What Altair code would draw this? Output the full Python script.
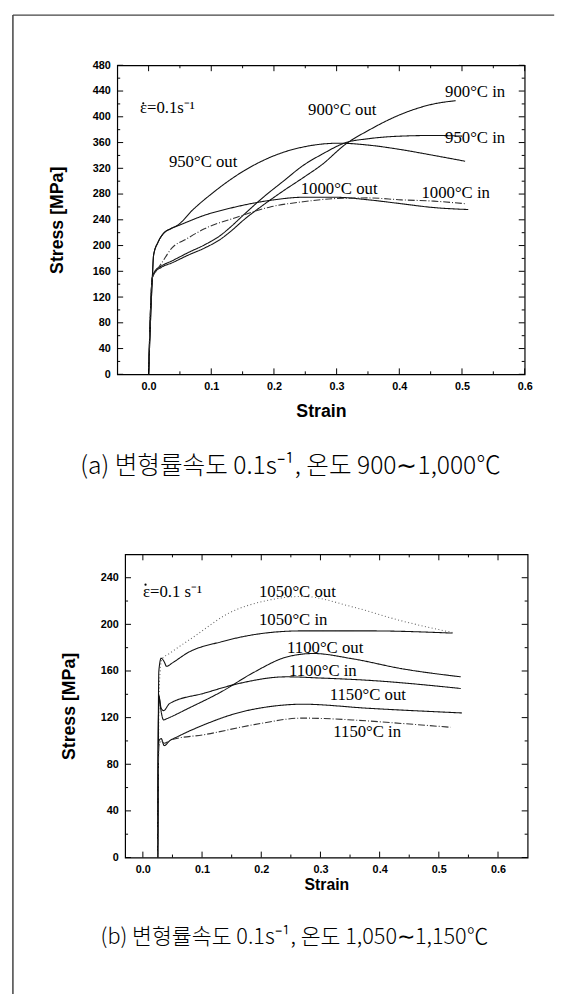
import altair as alt
import pandas as pd

# ---------------- panel (a): 900~1000 C ----------------
A_CAPTION = "(a) 변형률속도 0.1s⁻¹, 온도 900∼1,000℃"
A_NAMES = ["c900in", "c950in", "c950out", "c1000out", "c1000in"]
A_STYLE = ["solid", "solid", "solid", "solid", "dashdot"]
A_STRAIN = [
    [0.0, 0.006, 0.01, 0.02, 0.037, 0.063, 0.089, 0.115, 0.131, 0.152, 0.183, 0.215, 0.246, 0.277, 0.315, 0.351, 0.403, 0.455, 0.49],
    [0.0, 0.006, 0.01, 0.02, 0.037, 0.063, 0.089, 0.115, 0.131, 0.152, 0.183, 0.215, 0.246, 0.277, 0.315, 0.351, 0.403, 0.455, 0.5],
    [0.0, 0.006, 0.008, 0.015, 0.025, 0.035, 0.047, 0.07, 0.1, 0.152, 0.204, 0.257, 0.304, 0.351, 0.403, 0.455, 0.505],
    [0.0, 0.006, 0.008, 0.015, 0.025, 0.035, 0.05, 0.089, 0.13, 0.168, 0.2, 0.246, 0.298, 0.351, 0.403, 0.455, 0.51],
    [0.0, 0.006, 0.012, 0.021, 0.037, 0.06, 0.089, 0.141, 0.194, 0.246, 0.298, 0.351, 0.403, 0.455, 0.505],
]
A_STRESS = [
    [0, 150, 158, 166, 173, 185, 196, 210, 222, 240, 263, 285, 305, 326, 358, 379, 404, 420, 425],
    [0, 150, 160, 168, 176, 189, 201, 216, 229, 248, 275, 300, 324, 342, 360, 366, 370, 371, 370],
    [0, 150, 185, 205, 220, 226, 232, 255, 280, 316, 341, 355, 359, 356, 349, 340, 331],
    [0, 150, 185, 205, 220, 226, 232, 247, 258, 266, 271, 275, 275, 271, 265, 259, 256],
    [0, 150, 160, 173, 196, 210, 226, 244, 260, 268, 273, 274, 271, 269, 265],
]
A_LABELS = ["900°C in", "900°C out", "950°C in", "950°C out", "1000°C out", "1000°C in", "ε=0.1s⁻¹"]
A_LABEL_X = [0.521, 0.309, 0.521, 0.087, 0.304, 0.49, 0.03]
A_LABEL_Y = [438, 410, 367, 329, 288, 282, 414]
A_DOT = [-0.0085, 421]          # dot over epsilon (strain rate)
A_X_DOMAIN = [-0.05, 0.6]
A_Y_DOMAIN = [0, 480]
A_Y_MAJOR = list(range(0, 481, 40))
A_Y_MINOR = list(range(20, 480, 40))
A_X_MAJOR = [0.0, 0.1, 0.2, 0.3, 0.4, 0.5, 0.6]
A_X_MINOR = [0.05, 0.15, 0.25, 0.35, 0.45, 0.55]

# ---------------- panel (b): 1050~1150 C ----------------
B_CAPTION = "(b) 변형률속도 0.1s⁻¹, 온도 1,050∼1,150℃"
B_NAMES = ["c1050out", "c1050in", "c1100out", "c1100in", "c1150out", "c1150in"]
B_STYLE = ["dotted", "solid", "solid", "solid", "solid", "dashdot"]
B_STRAIN = [
    [0.025, 0.028, 0.032, 0.045, 0.088, 0.143, 0.215, 0.27, 0.354, 0.437, 0.523],
    [0.025, 0.027, 0.031, 0.036, 0.04, 0.05, 0.077, 0.132, 0.215, 0.27, 0.381, 0.523],
    [0.025, 0.027, 0.03, 0.035, 0.04, 0.077, 0.132, 0.188, 0.243, 0.288, 0.354, 0.437, 0.537],
    [0.025, 0.027, 0.031, 0.035, 0.045, 0.104, 0.16, 0.243, 0.298, 0.381, 0.537],
    [0.025, 0.027, 0.031, 0.036, 0.045, 0.06, 0.104, 0.16, 0.215, 0.27, 0.381, 0.539],
    [0.025, 0.027, 0.031, 0.036, 0.048, 0.104, 0.188, 0.27, 0.354, 0.437, 0.52],
]
B_STRESS = [
    [0, 150, 170, 175, 190, 209, 221, 224, 215, 203, 193],
    [0, 160, 171, 168, 164, 167, 176, 185, 193, 194.4, 194.4, 192.5],
    [0, 139, 128, 118, 119, 128, 142, 159, 172, 175, 170.5, 162, 155],
    [0, 138, 128, 126, 132, 141, 149, 155, 154, 152, 145],
    [0, 100, 102, 96, 100, 104, 114, 124, 129.5, 131.5, 128, 124],
    [0, 96, 100, 98, 101, 105.4, 114, 119.6, 118, 115, 111.7],
]
B_LABELS = ["1050°C out", "1050°C in", "1100°C out", "1100°C in", "1150°C out", "1150°C in", "ε=0.1 s⁻¹"]
B_LABEL_X = [0.261, 0.254, 0.308, 0.304, 0.38, 0.379, 0.05]
B_LABEL_Y = [228, 203.6, 179.5, 160, 139, 108, 228]
B_DOT = [0.0045, 234]
B_X_DOMAIN = [-0.03, 0.65]
B_Y_DOMAIN = [0, 260]
B_Y_MAJOR = list(range(0, 241, 40))
B_Y_MINOR = list(range(20, 260, 40))
B_X_MAJOR = [0.0, 0.1, 0.2, 0.3, 0.4, 0.5, 0.6]
B_X_MINOR = [0.05, 0.15, 0.25, 0.35, 0.45, 0.55]

STYLE_DOMAIN = ["solid", "dashdot", "dotted"]


def curves_df(names, styles, xs, ys):
    rows = []
    for n, s, xx, yy in zip(names, styles, xs, ys):
        for i, (a, b) in enumerate(zip(xx, yy)):
            rows.append({"curve": n, "style": s, "strain": a, "stress": b, "i": i})
    return pd.DataFrame(rows)


def panel(names, styles, xs, ys, labels, lx, ly, dot, xdom, ydom, ymaj, ymin, xmaj, xmin,
          width, height, caption, cap_fs, title_offset, lab_fs, xtit_fs, ytit_fs,
          xtit_pad, ytit_pad):
    xs_ = alt.Scale(domain=xdom, nice=False, zero=False)
    ys_ = alt.Scale(domain=ydom, nice=False, zero=False)
    xaxis = alt.Axis(values=xmaj, format=".1f", ticks=False, tickSize=0, domain=False,
                     grid=False, labelFontSize=lab_fs, labelFontWeight="bold",
                     labelPadding=6, labelColor="black", labelFlush=False,
                     title="Strain",
                     titleFontSize=xtit_fs, titleFontWeight="bold", titlePadding=xtit_pad,
                     titleColor="black", labelFont="Liberation Sans",
                     titleFont="Liberation Sans")
    yaxis = alt.Axis(values=ymaj, ticks=False, tickSize=0, domain=False, grid=False,
                     labelFontSize=lab_fs, labelFontWeight="bold", labelPadding=7,
                     labelColor="black", labelFlush=False,
                     title="Stress [MPa]", titleFontSize=ytit_fs,
                     titleFontWeight="bold", titlePadding=ytit_pad, titleColor="black",
                     labelFont="Liberation Sans", titleFont="Liberation Sans")
    df = curves_df(names, styles, xs, ys)
    lines = alt.Chart(df).mark_line(strokeWidth=1.1, interpolate="monotone").encode(
        x=alt.X("strain:Q", scale=xs_, axis=xaxis),
        y=alt.Y("stress:Q", scale=ys_, axis=yaxis),
        detail="curve:N",
        order="i:Q",
        strokeDash=alt.StrokeDash("style:N", legend=None,
                                  scale=alt.Scale(domain=STYLE_DOMAIN,
                                                  range=[[1, 0], [7, 2, 1, 2], [1, 2.5]])),
        color=alt.Color("style:N", legend=None,
                        scale=alt.Scale(domain=STYLE_DOMAIN,
                                        range=["#111111", "#333333", "#666666"])),
    )
    tdf = pd.DataFrame({"t": labels, "x": lx, "y": ly})
    texts = alt.Chart(tdf).mark_text(font="Liberation Serif", fontSize=17,
                                     color="black").encode(
        x=alt.X("x:Q", scale=xs_, axis=xaxis),
        y=alt.Y("y:Q", scale=ys_, axis=yaxis),
        text="t:N",
    )
    dotc = alt.Chart(pd.DataFrame({"x": [dot[0]], "y": [dot[1]]})).mark_circle(
        size=5, color="black", opacity=1).encode(
        x=alt.X("x:Q", scale=xs_, axis=xaxis),
        y=alt.Y("y:Q", scale=ys_, axis=yaxis),
    )

    def yticks(vals, length):
        d = pd.DataFrame({"v": vals})
        base = alt.Chart(d).mark_rule(color="black", strokeWidth=1)
        left = base.encode(y=alt.Y("v:Q", scale=ys_, axis=yaxis), x=alt.value(0),
                           x2=alt.value(length))
        right = base.encode(y=alt.Y("v:Q", scale=ys_, axis=yaxis), x=alt.value(width),
                            x2=alt.value(width - length))
        return [left, right]

    def xticks(vals, length):
        d = pd.DataFrame({"v": vals})
        base = alt.Chart(d).mark_rule(color="black", strokeWidth=1)
        bot = base.encode(x=alt.X("v:Q", scale=xs_, axis=xaxis), y=alt.value(height),
                          y2=alt.value(height - length))
        top = base.encode(x=alt.X("v:Q", scale=xs_, axis=xaxis), y=alt.value(0),
                          y2=alt.value(length))
        return [bot, top]

    layers = [lines, texts, dotc] + yticks(ymaj, 6) + yticks(ymin, 3) + xticks(xmaj, 6) + xticks(xmin, 3)
    return alt.layer(*layers).properties(
        width=width, height=height,
        view=alt.ViewBackground(stroke="black", strokeWidth=1.2),
        title=alt.TitleParams(text=caption, orient="bottom", anchor="middle",
                              frame="bounds",
                              font="Noto Sans CJK KR", fontSize=cap_fs, fontWeight=300,
                              color="black", offset=title_offset),
    )


top = panel(A_NAMES, A_STYLE, A_STRAIN, A_STRESS, A_LABELS, A_LABEL_X, A_LABEL_Y, A_DOT,
            A_X_DOMAIN, A_Y_DOMAIN, A_Y_MAJOR, A_Y_MINOR, A_X_MAJOR, A_X_MINOR,
            414, 314, A_CAPTION, 25, 34, 11, 18, 18, 12, 26)
bottom = panel(B_NAMES, B_STYLE, B_STRAIN, B_STRESS, B_LABELS, B_LABEL_X, B_LABEL_Y, B_DOT,
               B_X_DOMAIN, B_Y_DOMAIN, B_Y_MAJOR, B_Y_MINOR, B_X_MAJOR, B_X_MINOR,
               409, 308, B_CAPTION, 22, 36, 11, 16, 18, 2, 22)

# page frame of the scanned figure (left and top border lines)
frame_pt = alt.Chart(pd.DataFrame({"a": [0]})).mark_point(opacity=0).encode(
    x=alt.value(0), y=alt.value(0))
frame_left = alt.Chart(pd.DataFrame({"a": [0]})).mark_rule(
    color="#333333", strokeWidth=1.4).encode(
    x=alt.value(-106), y=alt.value(-548), y2=alt.value(470))
frame_top = alt.Chart(pd.DataFrame({"a": [0]})).mark_rule(
    color="#444444", strokeWidth=1.2).encode(
    x=alt.value(-106), x2=alt.value(444), y=alt.value(-548))
spacer = alt.layer(frame_pt, frame_left, frame_top).properties(
    width=1, height=1, view=alt.ViewBackground(stroke="transparent"))

chart = alt.vconcat(
    top,
    alt.hconcat(spacer, bottom, spacing=7, bounds="flush"),
    spacing=183,
    bounds="flush",
).properties(
    padding={"left": 3, "top": -3, "right": 10, "bottom": 0},
    background="white",
).configure_view(stroke="black")

chart.save("out.html", embed_options={"renderer": "svg", "actions": False})
